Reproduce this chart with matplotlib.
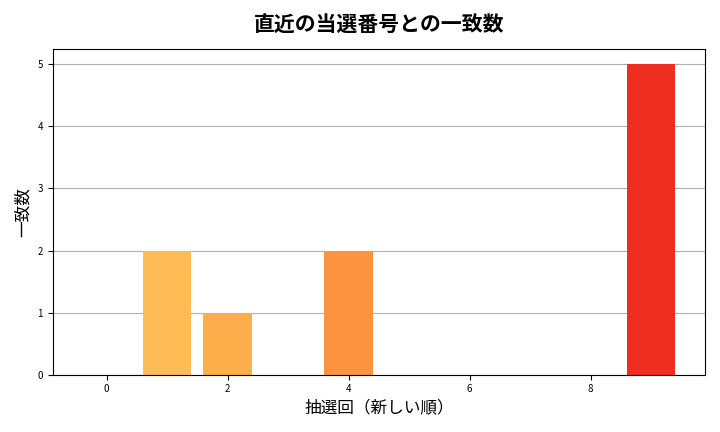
import numpy as np
import matplotlib
matplotlib.use("Agg")
import matplotlib.pyplot as plt

plt.rcParams['font.family'] = ['Noto Sans CJK JP', 'DejaVu Sans']

draw_index = list(range(10))
match_counts = [0, 2, 1, 0, 2, 0, 0, 0, 0, 5]

colors = plt.cm.YlOrRd(np.linspace(0.3, 0.7, len(draw_index)))

fig, ax = plt.subplots(figsize=(7.2, 4.32), dpi=100)
ax.bar(draw_index, match_counts, color=colors, width=0.8)
ax.set_title('直近の当選番号との一致数', fontsize=15, fontweight='bold', pad=12)
ax.set_xlabel('抽選回（新しい順）', fontsize=12)
ax.set_ylabel('一致数', fontsize=12)
ax.tick_params(labelsize=7)
ax.set_xticks([0, 2, 4, 6, 8])
ax.grid(axis='y', color='#b0b0b0', linewidth=0.8)
ax.set_axisbelow(True)
plt.tight_layout()
plt.savefig('out.png', dpi=100)
